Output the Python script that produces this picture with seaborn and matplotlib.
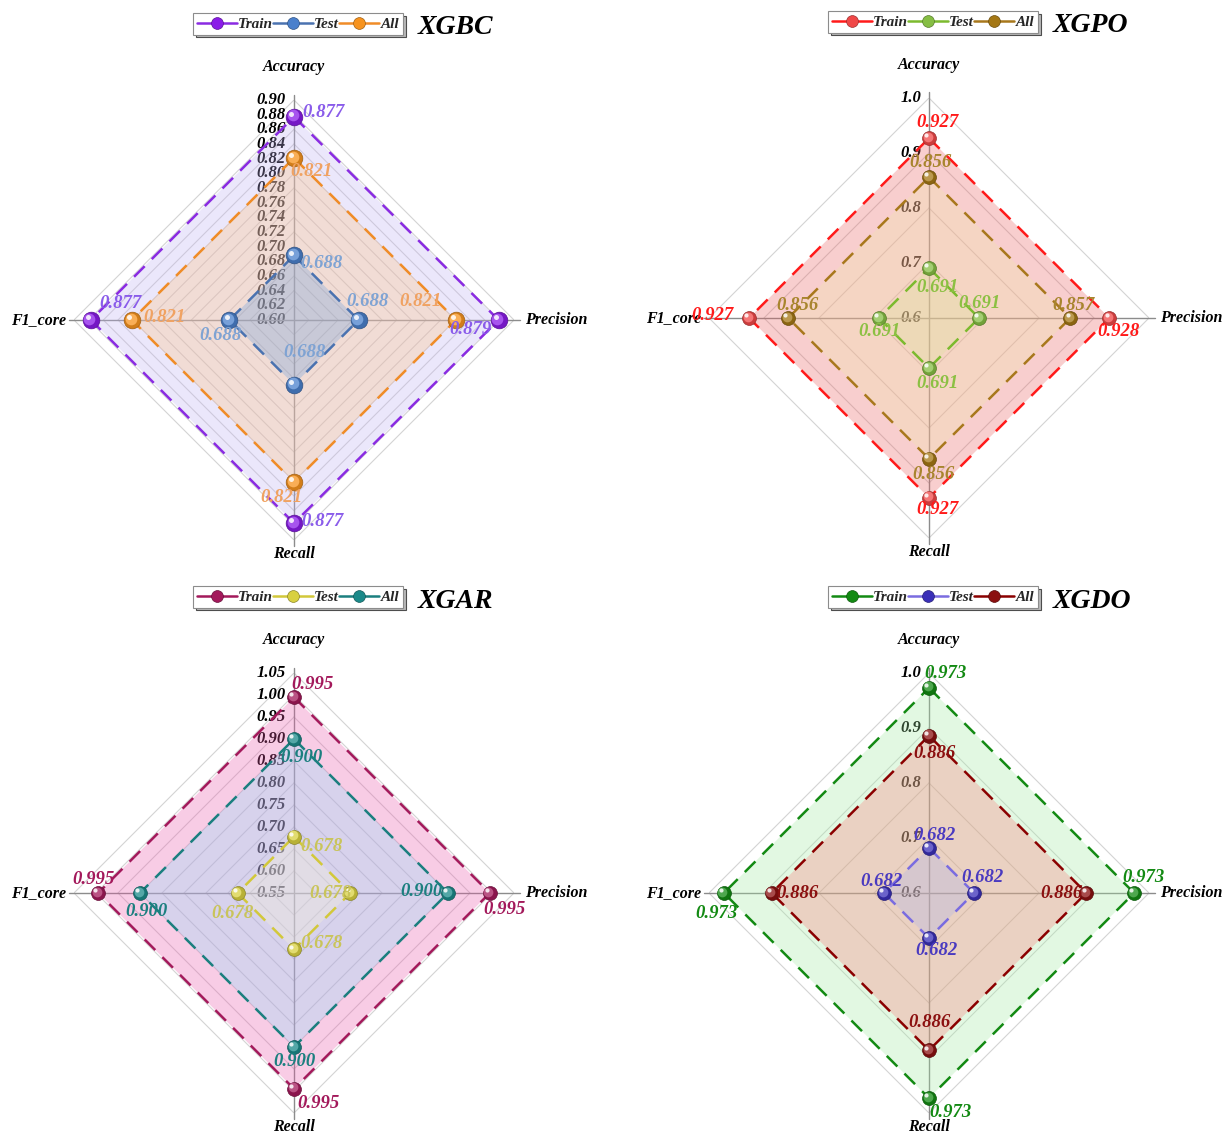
import numpy as np
import matplotlib
matplotlib.use("Agg")
import matplotlib.pyplot as plt
import matplotlib.transforms as mtransforms
from matplotlib.lines import Line2D
import seaborn as sns

# ---------------------------------------------------------------- data
metrics = ["Accuracy", "Precision", "Recall", "F1_core"]
series_names = ["Train", "Test", "All"]

xgbc_train = [0.877, 0.879, 0.877, 0.877]
xgbc_test = [0.688, 0.688, 0.688, 0.688]
xgbc_all = [0.821, 0.821, 0.821, 0.821]
xgbc_ticks = ["0.60", "0.62", "0.64", "0.66", "0.68", "0.70", "0.72", "0.74",
              "0.76", "0.78", "0.80", "0.82", "0.84", "0.86", "0.88", "0.90"]

xgpo_train = [0.927, 0.928, 0.927, 0.927]
xgpo_test = [0.691, 0.691, 0.691, 0.691]
xgpo_all = [0.856, 0.857, 0.856, 0.856]
xgpo_ticks = ["0.6", "0.7", "0.8", "0.9", "1.0"]

xgar_train = [0.995, 0.995, 0.995, 0.995]
xgar_test = [0.678, 0.678, 0.678, 0.678]
xgar_all = [0.900, 0.900, 0.900, 0.900]
xgar_ticks = ["0.55", "0.60", "0.65", "0.70", "0.75", "0.80", "0.85", "0.90",
              "0.95", "1.00", "1.05"]

xgdo_train = [0.973, 0.973, 0.973, 0.973]
xgdo_test = [0.682, 0.682, 0.682, 0.682]
xgdo_all = [0.886, 0.886, 0.886, 0.886]
xgdo_ticks = ["0.6", "0.7", "0.8", "0.9", "1.0"]

model_names = ["XGBC", "XGPO", "XGAR", "XGDO"]

# ---------------------------------------------------------------- styling
W, H, DPI = 1231, 1138, 100
RADIUS_PX = 220
FILL_ALPHA = 0.3

sns.set_theme(style="white")
plt.rcParams["font.family"] = ["Liberation Serif", "DejaVu Serif"]
FONT = dict(fontweight="bold", fontstyle="italic")

# "tone" holds the intended visible shade of each band (Train, Test, All),
# from which the translucent fill colours are derived.
panels = [
    dict(name="XGBC", cx=294, cy=320, data=[xgbc_train, xgbc_test, xgbc_all], ticks=xgbc_ticks,
         line=["#8A2BE2", "#4A72B0", "#F08C28"],
         ball=["#8A1BE8", "#4A80CC", "#F7931E"],
         tone=["#ECE8FB", "#C9CAD8", "#F8DDD6"],
         text=["#8A5CEA", "#7FA3D3", "#F0A262"],
         ms=12,
         offs=[[(29, -4), (-28, 10), (28, -2), (30, -16)],
               [(27, 8), (9, -18), (10, -32), (-9, 16)],
               [(17, 14), (-36, -19), (-13, 15), (33, -3)]]),
    dict(name="XGPO", cx=929, cy=318, data=[xgpo_train, xgpo_test, xgpo_all], ticks=xgpo_ticks,
         line=["#FF1A1A", "#7CBA2E", "#A8781C"],
         ball=["#F04848", "#86BE44", "#A47714"],
         tone=["#F9CFCF", "#EEDAB8", "#F6D6C4"],
         text=["#FF1A1A", "#8CC043", "#A8852E"],
         ms=10,
         offs=[[(8, -16), (9, 13), (8, 12), (-37, -2)],
               [(8, 20), (0, -14), (8, 15), (1, 14)],
               [(1, -15), (3, -12), (4, 16), (9, -13)]]),
    dict(name="XGAR", cx=294, cy=893, data=[xgar_train, xgar_test, xgar_all], ticks=xgar_ticks,
         line=["#A3195B", "#D2C83A", "#1B7F7F"],
         ball=["#A3195B", "#D8D040", "#1B8A8A"],
         tone=["#F9CDE6", "#E2DDE6", "#D8D3F1"],
         text=["#A3195B", "#C9C45A", "#1B7F7F"],
         ms=10,
         offs=[[(18, -13), (15, 16), (24, 15), (-5, -14)],
               [(27, 10), (-20, 0), (27, -6), (-5, 20)],
               [(7, 18), (-27, -2), (0, 14), (6, 18)]]),
    dict(name="XGDO", cx=929, cy=893, data=[xgdo_train, xgdo_test, xgdo_all], ticks=xgdo_ticks,
         line=["#138A13", "#7A6CE0", "#8B0000"],
         ball=["#138A13", "#3A2FB8", "#8B1010"],
         tone=["#E3F9E3", "#D8C9CF", "#ECD3C3"],
         text=["#138A13", "#4A3AC0", "#8B1010"],
         ms=10,
         offs=[[(16, -14), (9, -15), (21, 14), (-7, 20)],
               [(5, -12), (8, -15), (7, 12), (-2, -12)],
               [(5, 18), (-25, 0), (0, -28), (26, 0)]]),
]

# draw order: largest polygon first
DRAW_ORDER = [0, 2, 1]

fig = plt.figure(figsize=(W / DPI, H / DPI), dpi=DPI)
fig.patch.set_facecolor("white")

theta = np.deg2rad([0, 90, 180, 270])
theta_closed = np.append(theta, theta[0])


def shade(color, f):
    c = np.array(matplotlib.colors.to_rgb(color))
    if f >= 0:
        return tuple(c + (1 - c) * f)
    return tuple(c * (1 + f))


def fill_colours(tones, order, alpha):
    """Translucent colours that stack up to the requested band shades."""
    out = [None] * len(tones)
    under = np.ones(3)
    for i in order:
        want = np.array(matplotlib.colors.to_rgb(tones[i]))
        c = np.clip((want - (1 - alpha) * under) / alpha, 0, 1)
        out[i] = tuple(c)
        under = (1 - alpha) * under + alpha * c
    return out


for p in panels:
    ticks = [float(t) for t in p["ticks"]]
    lo, hi = ticks[0], ticks[-1]
    cx, cy = p["cx"], p["cy"]
    ax = fig.add_axes([(cx - RADIUS_PX) / W, (H - cy - RADIUS_PX) / H,
                       2 * RADIUS_PX / W, 2 * RADIUS_PX / H], projection="polar")
    ax.set_theta_zero_location("N")
    ax.set_theta_direction(-1)
    ax.set_ylim(lo, hi)
    ax.set_xticks([])
    ax.set_yticks([])
    ax.grid(False)
    ax.spines["polar"].set_visible(False)
    ax.patch.set_alpha(0)

    # diamond rings
    for t in ticks[1:]:
        ax.plot(theta_closed, [t] * 5, color="#d4d4d4", lw=0.8, zorder=1)

    # radial axes (vertical and horizontal), slightly beyond the outer ring
    ext = hi + (hi - lo) * 0.025
    for th in (0.0, np.pi / 2):
        ax.plot([th, th + np.pi], [ext, ext], color="#8c8c8c", lw=1.0,
                zorder=1.2, clip_on=False)

    # radial tick labels along the Accuracy axis
    for lab, t in zip(p["ticks"], ticks):
        ax.annotate(lab, xy=(0, t), xytext=(-8, 0), textcoords="offset pixels",
                    ha="right", va="center", fontsize=12, color="black",
                    zorder=1.1, annotation_clip=False, **FONT)

    # metric names
    label_pos = [((0, 33), "center", "center"), ((11, 0), "left", "center"),
                 ((0, -14), "center", "center"), ((-8, 0), "right", "center")]
    for th, name, (off, ha, va) in zip(theta, metrics, label_pos):
        ax.annotate(name, xy=(th, hi), xytext=off, textcoords="offset pixels",
                    ha=ha, va=va, fontsize=11.5, color="black",
                    annotation_clip=False, **FONT)

    # filled areas
    fills = fill_colours(p["tone"], DRAW_ORDER, FILL_ALPHA)
    for i in DRAW_ORDER:
        vals = p["data"][i]
        ax.fill(theta_closed, vals + vals[:1], color=fills[i], alpha=FILL_ALPHA,
                lw=0, zorder=2)

    # dashed outlines
    for i in DRAW_ORDER:
        vals = p["data"][i]
        sns.lineplot(x=theta_closed, y=vals + vals[:1], ax=ax, sort=False,
                     estimator=None, color=p["line"][i], lw=1.8, zorder=3)
        ax.lines[-1].set_dashes((6, 4))

    # spherical markers
    hl1 = ax.transData + mtransforms.ScaledTranslation(-1.0 / 72, 1.0 / 72, fig.dpi_scale_trans)
    hl2 = ax.transData + mtransforms.ScaledTranslation(-2.0 / 72, 2.0 / 72, fig.dpi_scale_trans)
    ms = p["ms"]
    for i in DRAW_ORDER:
        vals = p["data"][i]
        base = p["ball"][i]
        sns.scatterplot(x=theta, y=vals, ax=ax, color=shade(base, -0.15), s=ms ** 2,
                        edgecolor=shade(base, -0.35), linewidth=0.5, zorder=5,
                        clip_on=False, legend=False)
        ax.scatter(theta, vals, s=(ms * 0.7) ** 2, color=shade(base, 0.25), lw=0,
                   zorder=5.1, transform=hl1, clip_on=False)
        ax.scatter(theta, vals, s=(ms * 0.3) ** 2, color="white", alpha=0.85, lw=0,
                   zorder=5.2, transform=hl2, clip_on=False)

    # value labels
    for i in range(3):
        for j, (th, v) in enumerate(zip(theta, p["data"][i])):
            dx, dy = p["offs"][i][j]
            ax.annotate(f"{v:.3f}", xy=(th, v), xytext=(dx, -dy),
                        textcoords="offset pixels", ha="center", va="center",
                        fontsize=13.5, color=p["text"][i], zorder=6,
                        annotation_clip=False, **FONT)

    # legend with shadowed box
    handles = [Line2D([0], [0], color=p["line"][i], lw=1.8, marker="o", markersize=8.5,
                      markerfacecolor=p["ball"][i],
                      markeredgecolor=shade(p["ball"][i], -0.35), markeredgewidth=0.5)
               for i in range(3)]
    leg = ax.legend(handles, series_names, ncol=3, loc="center left",
                    bbox_to_anchor=((cx - 101) / W, 1 - (cy - 296) / H),
                    bbox_transform=fig.transFigure, borderaxespad=0,
                    columnspacing=0.0, handlelength=2.6, handletextpad=0.1,
                    borderpad=0.25, fancybox=False, frameon=True,
                    edgecolor="#8c8c8c", framealpha=1,
                    shadow={"facecolor": "#b8b8b8", "alpha": 1.0},
                    prop=dict(family=["Liberation Serif"], weight="bold",
                              style="italic", size=11))
    leg.get_frame().set_linewidth(0.8)

    fig.text((cx + 124) / W, 1 - (cy - 292) / H, p["name"], ha="left", va="center",
             fontsize=20, color="black", **FONT)

fig.savefig("out.png", dpi=DPI)
